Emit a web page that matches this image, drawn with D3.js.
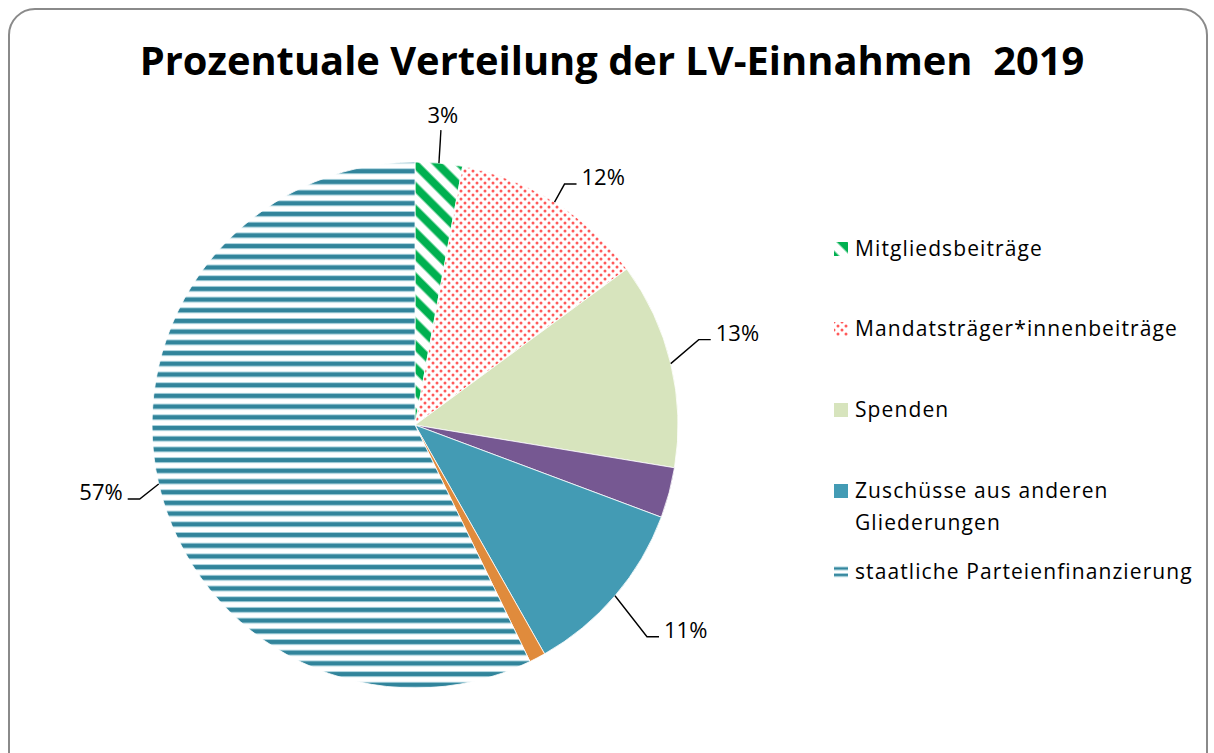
<!DOCTYPE html>
<html>
<head>
<meta charset="utf-8">
<script src="https://cdn.jsdelivr.net/npm/d3@7"></script>
<style>
  body { margin: 0; background: #fff; }
  svg { display: block; font-family: "Open Sans", "Liberation Sans", Arial, sans-serif; }
</style>
</head>
<body>
<div id="chart"></div>
<script>
// chart data
var categories = ["Mitgliedsbeiträge", "Mandatsträger*innenbeiträge", "Spenden", "Sonstige", "Zuschüsse aus anderen Gliederungen", "Sonstiges", "staatliche Parteienfinanzierung"];
var values = [2.9, 12.0, 12.7, 3.1, 11.1, 1.0, 57.2];
var labels = ["3%", "12%", "13%", "", "11%", "", "57%"];
var legendItems = ["Mitgliedsbeiträge", "Mandatsträger*innenbeiträge", "Spenden", "Zuschüsse aus anderen|Gliederungen", "staatliche Parteienfinanzierung"];
var legendIdx = [0, 1, 2, 4, 6];
var titleText = "Prozentuale Verteilung der LV-Einnahmen\u00a0\u00a02019";

var W = 1214, H = 753;
var cx = 415, cy = 425, R = 263;
// where each leader line bends, relative to its start on the rim
var leaderBend = [[2, -33], [10, -18], [28, -24], null, [32, 41], null, [-19, 15]];

var svg = d3.select("#chart").append("svg")
    .attr("width", W)
    .attr("height", H);

var defs = svg.append("defs");

// green diagonal stripes
var pg = defs.append("pattern")
    .attr("id", "p_green")
    .attr("patternUnits", "userSpaceOnUse")
    .attr("width", 16).attr("height", 16)
    .attr("patternTransform", "rotate(45)");
pg.append("rect").attr("width", 16).attr("height", 16).attr("fill", "#fff");
pg.append("rect").attr("y", 3).attr("width", 16).attr("height", 9).attr("fill", "#7fd7a7");
pg.append("rect").attr("y", 4).attr("width", 16).attr("height", 7).attr("fill", "#00b050");

// red dots
var pr = defs.append("pattern")
    .attr("id", "p_red")
    .attr("patternUnits", "userSpaceOnUse")
    .attr("width", 8).attr("height", 8);
pr.append("rect").attr("width", 8).attr("height", 8).attr("fill", "#fff");
pr.append("circle").attr("cx", 2).attr("cy", 2).attr("r", 1.5).attr("fill", "#ff5a5a");
pr.append("circle").attr("cx", 6).attr("cy", 6).attr("r", 1.5).attr("fill", "#ff5a5a");

// horizontal teal stripes
var ph = defs.append("pattern")
    .attr("id", "p_teal")
    .attr("patternUnits", "userSpaceOnUse")
    .attr("width", 10).attr("height", 10.7);
ph.append("rect").attr("width", 10).attr("height", 10.7).attr("fill", "#fff");
ph.append("rect").attr("y", 0).attr("width", 10).attr("height", 6).attr("fill", "#a9d2dd");
ph.append("rect").attr("y", 1).attr("width", 10).attr("height", 4).attr("fill", "#31849b");

// smaller stripes for the legend key
var phs = defs.append("pattern")
    .attr("id", "p_teal_s")
    .attr("patternUnits", "userSpaceOnUse")
    .attr("width", 10).attr("height", 6.5)
    .attr("y", 1);
phs.append("rect").attr("width", 10).attr("height", 6.5).attr("fill", "#fff");
phs.append("rect").attr("y", 0).attr("width", 10).attr("height", 4).attr("fill", "#a9d2dd");
phs.append("rect").attr("y", 1).attr("width", 10).attr("height", 2).attr("fill", "#31849b");

var fills = ["url(#p_green)", "url(#p_red)", "#d7e4bd", "#765892", "#439bb4", "#e08b3c", "url(#p_teal)"];
var keyFills = ["url(#p_green)", "url(#p_red)", "#d7e4bd", "#439bb4", "url(#p_teal_s)"];

// frame
svg.append("rect")
    .attr("x", 9).attr("y", 9)
    .attr("width", 1198).attr("height", 800)
    .attr("rx", 26).attr("ry", 26)
    .attr("fill", "none")
    .attr("stroke", "#8a8a8a")
    .attr("stroke-width", 2);

// title, sized to the width it has in the picture
var title = svg.append("text")
    .attr("x", 612).attr("y", 75)
    .attr("text-anchor", "middle")
    .style("font-weight", "bold")
    .style("font-size", "40px")
    .attr("fill", "#000")
    .text(titleText);
var tw = title.node().getComputedTextLength();
title.style("font-size", (40 * 945 / tw) + "px");

var pie = d3.pie().sort(null).value(function (d) { return d; });
var arcs = pie(values);
var arc = d3.arc().innerRadius(0).outerRadius(R);

var g = svg.append("g").attr("transform", "translate(" + cx + "," + cy + ")");

g.selectAll("path.slice")
    .data(arcs)
    .enter().append("path")
    .attr("class", "slice")
    .attr("d", arc)
    .attr("fill", function (d, i) { return fills[i]; })
    .attr("stroke", "#fff")
    .attr("stroke-width", 0.8);

// labels with leader lines
arcs.forEach(function (d, i) {
    if (!labels[i]) return;
    var a = (d.startAngle + d.endAngle) / 2;
    var p0 = [Math.sin(a) * R, -Math.cos(a) * R];
    var p1 = [p0[0] + leaderBend[i][0], p0[1] + leaderBend[i][1]];
    var lbl = g.append("text")
        .style("font-size", "22px")
        .attr("fill", "#000")
        .text(labels[i]);
    if (Math.abs(leaderBend[i][0]) < 5) {
        g.append("path")
            .attr("d", d3.line()([p0, p1]))
            .attr("fill", "none").attr("stroke", "#000").attr("stroke-width", 1.4);
        lbl.attr("x", p1[0] + 2).attr("y", p1[1] - 7).attr("text-anchor", "middle");
    } else {
        var side = leaderBend[i][0] > 0 ? 1 : -1;
        var p2 = [p1[0] + side * 12, p1[1]];
        g.append("path")
            .attr("d", d3.line()([p0, p1, p2]))
            .attr("fill", "none").attr("stroke", "#000").attr("stroke-width", 1.4);
        lbl.attr("x", p2[0] + side * 5).attr("y", p2[1] + 1)
            .attr("text-anchor", side > 0 ? "start" : "end");
    }
});

// legend
var ly = [249, 329, 410, 491, 572];
var leg = svg.append("g");
legendItems.forEach(function (name, k) {
    leg.append("rect")
        .attr("x", 834).attr("y", ly[k] - 7)
        .attr("width", 14).attr("height", 14)
        .attr("fill", keyFills[k]);
    var lines = name.split("|");
    var t = leg.append("text")
        .attr("x", 855).attr("y", ly[k] + 7)
        .style("font-size", "21px")
        .style("letter-spacing", "1.1px")
        .attr("fill", "#000");
    lines.forEach(function (ln, j) {
        t.append("tspan").attr("x", 855).attr("dy", j === 0 ? 0 : 32).text(ln);
    });
});
</script>
</body>
</html>
